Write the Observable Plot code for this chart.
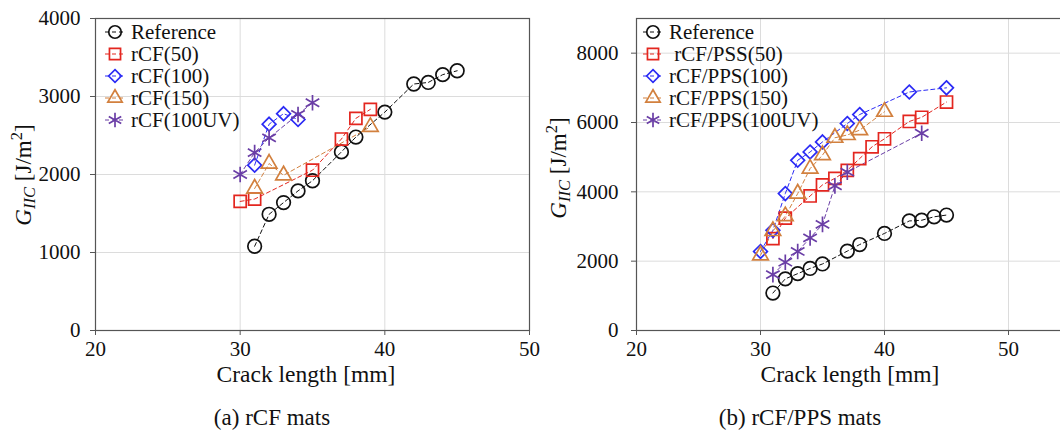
<!DOCTYPE html>
<html>
<head>
<meta charset="utf-8">
<script src="https://cdn.jsdelivr.net/npm/d3@7"></script>
<script src="https://cdn.jsdelivr.net/npm/@observablehq/plot@0.6"></script>
<style>
  html, body { margin: 0; padding: 0; background: #fff; overflow: hidden; }
  #wrap { position: relative; width: 1060px; height: 437px; overflow: hidden; font-family: "Liberation Serif", serif; color: #111; }
  .abs { position: absolute; white-space: pre; line-height: 1; }
  .ylab { font-size: 23px; transform: translate(-50%, -50%) rotate(-90deg); }
  .ylab sub { font-size: 0.72em; vertical-align: -0.3em; line-height: 0; }
  .ylab sup { font-size: 0.72em; vertical-align: 0.5em; line-height: 0; }
  .xlab { font-size: 23.5px; transform: translate(-50%, -50%); }
  .cap { font-size: 23px; transform: translate(-50%, -50%); }
  .legend { position: absolute; font-size: 21px; }
  .legend .row { display: flex; align-items: center; height: 22px; white-space: pre; }
  .legend svg { margin-right: 6px; }
</style>
</head>
<body>
<div id="wrap"></div>
<script>
// ---------- data ----------
const xTicks = [20, 30, 40, 50];
const yTicksA = [0, 1000, 2000, 3000, 4000];
const yTicksB = [0, 2000, 4000, 6000, 8000];

// shared reference series
const refX = [31, 32, 33, 34, 35, 37, 38, 40, 42, 43, 44, 45];
const refG = [1080, 1490, 1640, 1790, 1920, 2290, 2480, 2800, 3160, 3180, 3280, 3330];

// (a) rCF mats
const labelsA = ["Reference", "rCF(50)", "rCF(100)", "rCF(150)", "rCF(100UV)"];
const a50X = [30, 31, 35, 37, 38, 39];
const a50G = [1655, 1685, 2055, 2455, 2720, 2835];
const a100X = [31, 32, 33, 34];
const a100G = [2120, 2645, 2780, 2705];
const a150X = [31, 32, 33, 39];
const a150G = [1820, 2140, 1990, 2610];
const aUVX = [30, 31, 32, 34, 35];
const aUVG = [2000, 2280, 2470, 2770, 2920];

// (b) rCF/PPS mats
const labelsB = ["Reference", " rCF/PSS(50)", "rCF/PPS(100)", "rCF/PPS(150)", "rCF/PPS(100UV)"];
const b50X = [31, 32, 34, 35, 36, 37, 38, 39, 40, 42, 43, 45];
const b50G = [2650, 3240, 3880, 4200, 4390, 4620, 4960, 5300, 5530, 6030, 6150, 6590];
const b100X = [30, 31, 32, 33, 34, 35, 37, 38, 42, 45];
const b100G = [2280, 2890, 3950, 4910, 5150, 5440, 5970, 6230, 6880, 7000];
const b150X = [30, 31, 32, 33, 34, 35, 36, 37, 38, 40];
const b150G = [2170, 2870, 3300, 3950, 4670, 5060, 5560, 5640, 5780, 6310];
const bUVX = [31, 32, 33, 34, 35, 36, 37, 43];
const bUVG = [1610, 1970, 2280, 2670, 3060, 4170, 4570, 5690];

// ---------- styling ----------
const fontStack = '"Liberation Serif", serif';
const colors = ["#111111", "#e3261f", "#2b2bf5", "#d2803e", "#6a3ea6"];
const symbols = ["circle", "square", "diamond2", "triangle", "asterisk"];
const radii = [6.8, 6.8, 6.2, 5.8, 7.4];

function buildSeries(labels, xs, gs) {
  return labels.map((name, i) => ({
    name, color: colors[i], symbol: symbols[i], r: radii[i],
    data: xs[i].map((x, j) => ({ x, g: gs[i][j] }))
  }));
}

const seriesA = buildSeries(labelsA, [refX, a50X, a100X, a150X, aUVX], [refG, a50G, a100G, a150G, aUVG]);
const seriesB = buildSeries(labelsB, [refX, b50X, b100X, b150X, bUVX], [refG, b50G, b100G, b150G, bUVG]);

function chart({ series, xDomain, yDomain, yTicks, width, marginLeft, marginRight, yPad }) {
  return Plot.plot({
    width, height: 360,
    marginTop: 18, marginBottom: 30, marginLeft, marginRight,
    style: { fontFamily: fontStack, fontSize: "21px", background: "transparent", color: "#111", overflow: "visible" },
    x: { domain: xDomain },
    y: { domain: yDomain },
    marks: [
      Plot.gridX(xTicks, { stroke: "#dcdcdc", strokeOpacity: 1 }),
      Plot.gridY(yTicks, { stroke: "#dcdcdc", strokeOpacity: 1 }),
      Plot.frame({ stroke: "#555", strokeWidth: 1.2 }),
      Plot.axisX(xTicks, { tickSize: 5, tickPadding: 6, label: null, fontSize: 21, stroke: "#555" }),
      Plot.axisY(yTicks, { tickSize: 5, tickPadding: yPad, label: null, fontSize: 21, tickFormat: d => String(d), stroke: "#555" }),
      ...series.map(s => Plot.line(s.data, { x: "x", y: "g", stroke: s.color, strokeWidth: 1, strokeDasharray: "4,3" })),
      ...series.map(s => Plot.dot(s.data, { x: "x", y: "g", stroke: s.color, fill: "none", strokeWidth: 1.7, symbol: s.symbol, r: s.r }))
    ]
  });
}

const wrap = document.getElementById("wrap");

function place(el, left, top) {
  el.style.position = "absolute";
  el.style.left = left + "px";
  el.style.top = top + "px";
  wrap.appendChild(el);
}

const cA = chart({ series: seriesA, xDomain: [20, 50], yDomain: [0, 4000], yTicks: yTicksA, width: 545, marginLeft: 95, marginRight: 16, yPad: 10 });
place(cA, 0, 0);
const cB = chart({ series: seriesB, xDomain: [20, 55], yDomain: [0, 9000], yTicks: yTicksB, width: 540, marginLeft: 106, marginRight: 0, yPad: 13 });
place(cB, 530, 0);

function symbolSvg(s) {
  const ns = "http://www.w3.org/2000/svg";
  const svg = document.createElementNS(ns, "svg");
  svg.setAttribute("width", 20); svg.setAttribute("height", 20);
  svg.style.overflow = "visible";
  const line = document.createElementNS(ns, "line");
  line.setAttribute("x1", 0); line.setAttribute("x2", 18);
  line.setAttribute("y1", 10); line.setAttribute("y2", 10);
  line.setAttribute("stroke", s.color); line.setAttribute("stroke-width", 1.2);
  line.setAttribute("stroke-dasharray", "4,3");
  svg.appendChild(line);
  const symMap = { circle: d3.symbolCircle, square: d3.symbolSquare, diamond2: d3.symbolDiamond2, triangle: d3.symbolTriangle, asterisk: d3.symbolAsterisk };
  const p = document.createElementNS(ns, "path");
  p.setAttribute("d", d3.symbol(symMap[s.symbol], Math.PI * (s.r * 0.92) ** 2)());
  p.setAttribute("transform", "translate(10,10)");
  p.setAttribute("fill", "none"); p.setAttribute("stroke", s.color); p.setAttribute("stroke-width", 1.7);
  svg.appendChild(p);
  return svg;
}

function legend(series, left, top) {
  const div = document.createElement("div");
  div.className = "legend";
  for (const s of series) {
    const row = document.createElement("div");
    row.className = "row";
    row.appendChild(symbolSvg(s));
    const t = document.createElement("span");
    t.textContent = s.name;
    row.appendChild(t);
    div.appendChild(row);
  }
  place(div, left, top);
}
legend(seriesA, 105, 21);
legend(seriesB, 643, 21);

function label(html, cls, left, top) {
  const d = document.createElement("div");
  d.className = "abs " + cls;
  d.innerHTML = html;
  place(d, left, top);
}
const yLabelHtml = '<i>G</i><sub><i>IIC</i></sub> [J/m<sup>2</sup>]';
label(yLabelHtml, "ylab", 23, 175);
label(yLabelHtml, "ylab", 558, 168);
label("Crack length [mm]", "xlab", 306, 375);
label("Crack length [mm]", "xlab", 850, 375);
label("(a) rCF mats", "cap", 272, 417);
label("(b) rCF/PPS mats", "cap", 800, 417);
</script>
</body>
</html>
